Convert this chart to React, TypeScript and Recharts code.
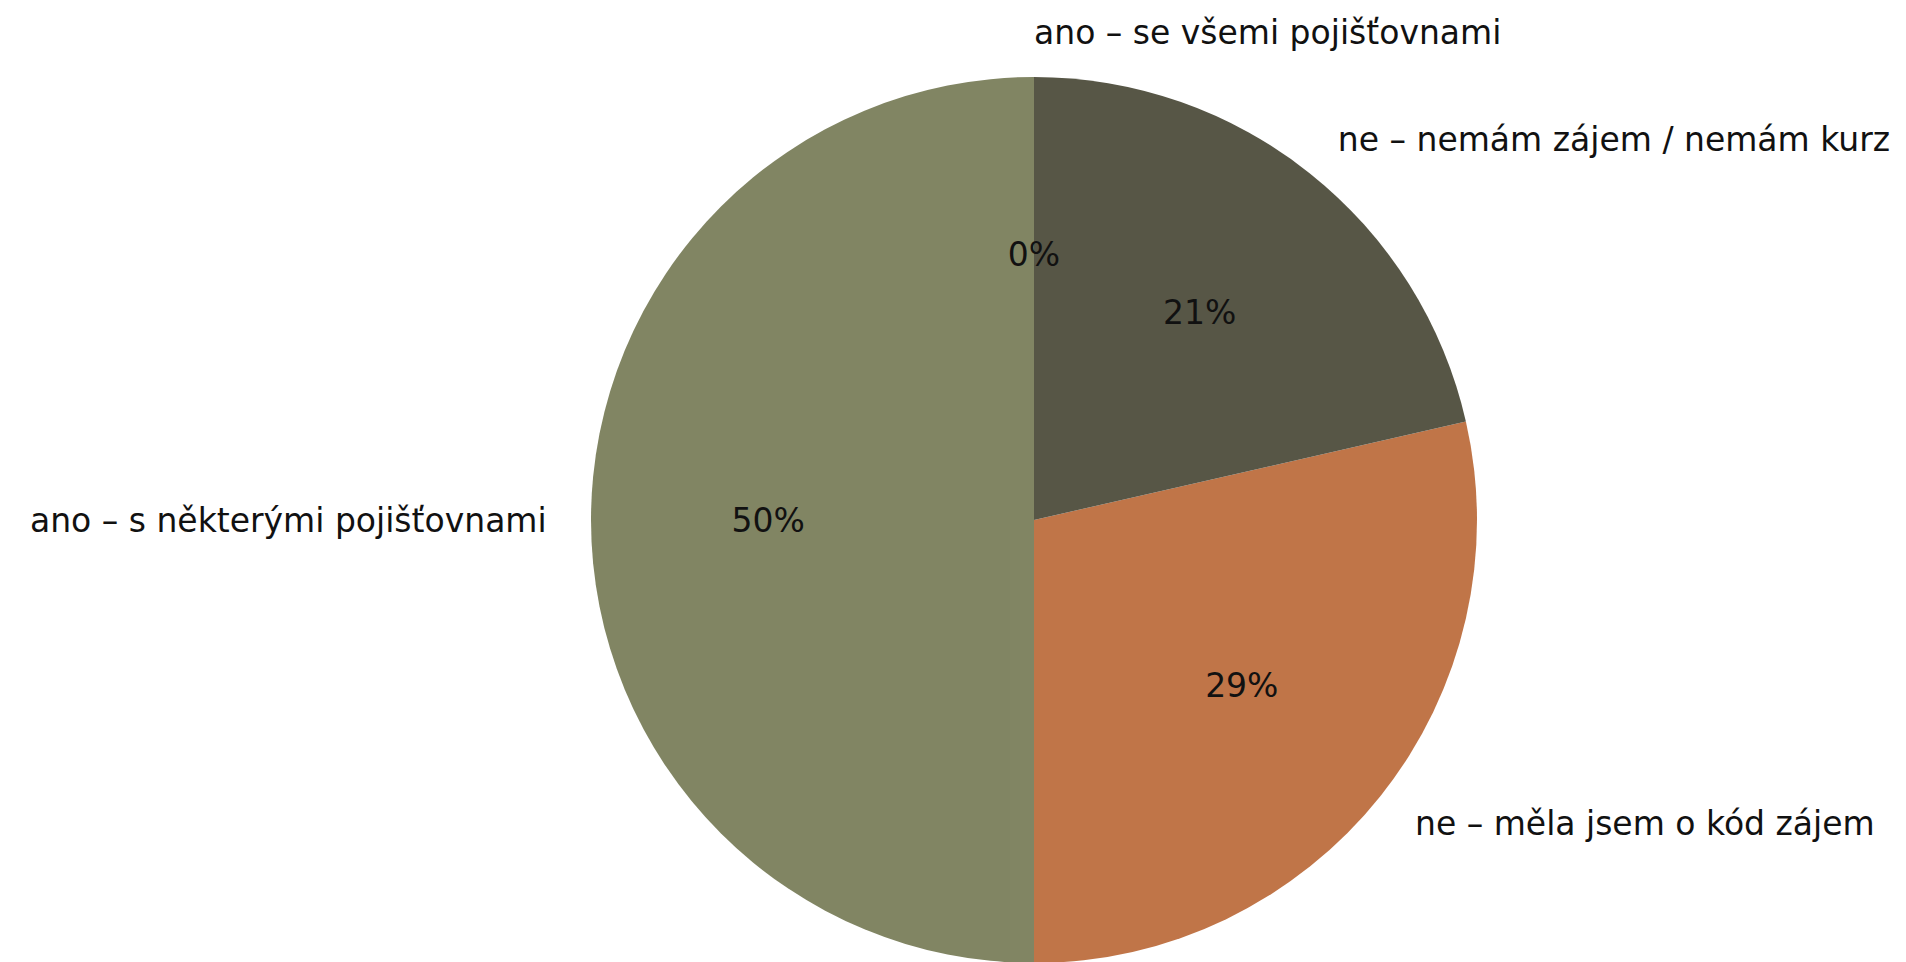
import { PieChart, Pie, Cell } from "recharts";

// answers in the order the slices are drawn (counter-clockwise from 12 o'clock)
const answers = [
  "ano – se všemi pojišťovnami",
  "ano – s některými pojišťovnami",
  "ne – měla jsem o kód zájem",
  "ne – nemám zájem / nemám kurz",
];
const counts = [0, 7, 4, 3];
const colors = ["#e0e4c0", "#818563", "#c07548", "#575646"];

const data = answers.map((name, i) => ({ name, value: counts[i] }));

const RADIAN = Math.PI / 180;
const FONT = "'DejaVu Sans', sans-serif";

function renderLabel(props: any) {
  const { cx, cy, midAngle, outerRadius, percent, name, index } = props;
  const cos = Math.cos(midAngle * RADIAN);
  const sin = Math.sin(midAngle * RADIAN);
  // outer label, matplotlib style (1.1 * r)
  const lr = outerRadius * 1.1;
  const lx = cx + lr * cos;
  const ly = cy - lr * sin;
  // percent label (0.6 * r)
  const pr = outerRadius * 0.6;
  const px = cx + pr * cos;
  const py = cy - pr * sin;
  return (
    <g key={`lbl-${index}`}>
      <text
        x={lx}
        y={ly}
        textAnchor={cos > 0 ? "start" : "end"}
        dominantBaseline="central"
        fill="#111"
        fontSize={33}
        fontFamily={FONT}
      >
        {name}
      </text>
      <text
        x={px}
        y={py}
        textAnchor="middle"
        dominantBaseline="central"
        fill="#111"
        fontSize={33}
        fontFamily={FONT}
      >
        {`${Math.round(percent * 100)}%`}
      </text>
    </g>
  );
}

export default function App() {
  return (
    <div style={{ position: "absolute", left: 0, top: 0, background: "#fff" }}>
      <PieChart width={1906} height={962}>
        <Pie
          data={data}
          dataKey="value"
          nameKey="name"
          cx={1029}
          cy={515}
          outerRadius={443}
          startAngle={90}
          endAngle={450}
          stroke="none"
          label={renderLabel}
          labelLine={false}
          isAnimationActive={false}
        >
          {data.map((d, i) => (
            <Cell key={d.name} fill={colors[i]} />
          ))}
        </Pie>
      </PieChart>
    </div>
  );
}
